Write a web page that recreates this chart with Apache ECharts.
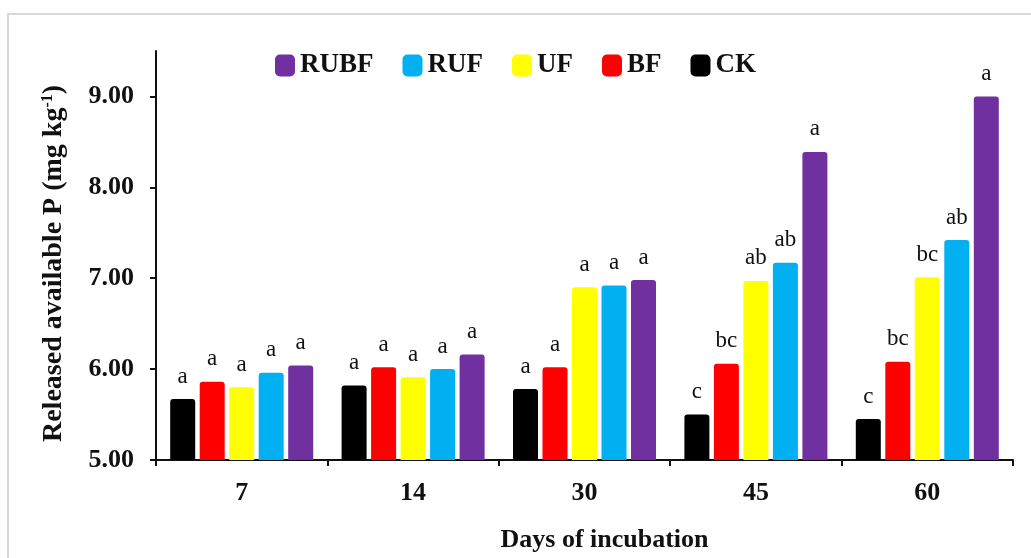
<!DOCTYPE html>
<html>
<head>
<meta charset="utf-8">
<script src="https://cdn.jsdelivr.net/npm/echarts@6/dist/echarts.min.js"></script>
<style>
  html, body { margin: 0; padding: 0; background: #fff; }
  #chart { width: 1031px; height: 558px; }
</style>
</head>
<body>
<div id="chart"></div>
<script>
// Days of incubation (categories)
const days = ['7', '14', '30', '45', '60'];

// Released available P (mg kg-1) per treatment
const ck   = [5.67, 5.82, 5.78, 5.50, 5.45];
const bf   = [5.86, 6.02, 6.02, 6.06, 6.08];
const uf   = [5.80, 5.91, 6.90, 6.97, 7.01];
const ruf  = [5.96, 6.00, 6.92, 7.17, 7.42];
const rubf = [6.04, 6.16, 6.98, 8.39, 9.00];

// Significance letters shown above each bar
const ckSig   = ['a', 'a', 'a', 'c', 'c'];
const bfSig   = ['a', 'a', 'a', 'bc', 'bc'];
const ufSig   = ['a', 'a', 'a', 'ab', 'bc'];
const rufSig  = ['a', 'a', 'a', 'ab', 'ab'];
const rubfSig = ['a', 'a', 'a', 'a', 'a'];

// Y axis tick values
const yTicks = [5, 6, 7, 8, 9];

const serif = 'Liberation Serif';

function barSeries(name, values, letters, color) {
  return {
    name: name,
    type: 'bar',
    data: values,
    barWidth: 25,
    barGap: '18%',
    itemStyle: { color: color, borderRadius: [3, 3, 0, 0] },
    label: {
      show: true,
      position: 'top',
      distance: 11,
      fontFamily: serif,
      fontSize: 23,
      color: '#111',
      formatter: function (p) { return letters[p.dataIndex]; }
    }
  };
}

const chart = echarts.init(document.getElementById('chart'));
chart.setOption({
  animation: false,
  backgroundColor: '#fff',
  graphic: [{
    type: 'polyline',
    shape: { points: [[8, 558], [8, 14], [1031, 14]] },
    style: { stroke: '#d8d8d8', lineWidth: 2, fill: null },
    silent: true
  }],
  grid: { left: 156, right: 18, top: 51, bottom: 96, containLabel: false },
  legend: {
    data: ['RUBF', 'RUF', 'UF', 'BF', 'CK'],
    top: 47,
    left: 270,
    itemWidth: 20,
    itemHeight: 22,
    itemGap: 29,
    icon: 'roundRect',
    textStyle: { fontFamily: serif, fontSize: 27, fontWeight: 'bold', color: '#111' }
  },
  xAxis: {
    type: 'category',
    data: days,
    name: 'Days of incubation',
    nameLocation: 'middle',
    nameGap: 67,
    nameTextStyle: { fontFamily: serif, fontSize: 26, fontWeight: 'bold', color: '#111', padding: [0, 0, 0, 40] },
    axisLine: { lineStyle: { color: '#111', width: 2 } },
    axisTick: { show: true, length: 6, lineStyle: { color: '#111', width: 2 } },
    axisLabel: { margin: 20, fontFamily: serif, fontSize: 26, fontWeight: 'bold', color: '#111' }
  },
  yAxis: {
    type: 'value',
    min: 5,
    max: 9.5,
    interval: 1,
    name: 'Released available P (mg kg{sup|-1})',
    nameLocation: 'middle',
    nameGap: 88,
    nameTextStyle: {
      fontFamily: serif, fontSize: 28, fontWeight: 'bold', color: '#111',
      padding: [0, 16, 0, 0],
      rich: { sup: { fontFamily: serif, fontSize: 16, fontWeight: 'bold', color: '#111', padding: [0, 0, 12, 0] } }
    },
    splitLine: { show: false },
    axisLine: { show: true, lineStyle: { color: '#111', width: 2 } },
    axisTick: { show: true, length: 6, customValues: yTicks, lineStyle: { color: '#111', width: 2 } },
    axisLabel: {
      margin: 22,
      customValues: yTicks,
      fontFamily: serif, fontSize: 26, fontWeight: 'bold', color: '#111',
      formatter: function (v) { return v.toFixed(2); }
    }
  },
  series: [
    barSeries('CK', ck, ckSig, '#000000'),
    barSeries('BF', bf, bfSig, '#FF0000'),
    barSeries('UF', uf, ufSig, '#FFFF00'),
    barSeries('RUF', ruf, rufSig, '#00B0F0'),
    barSeries('RUBF', rubf, rubfSig, '#7030A0')
  ]
});
</script>
</body>
</html>
